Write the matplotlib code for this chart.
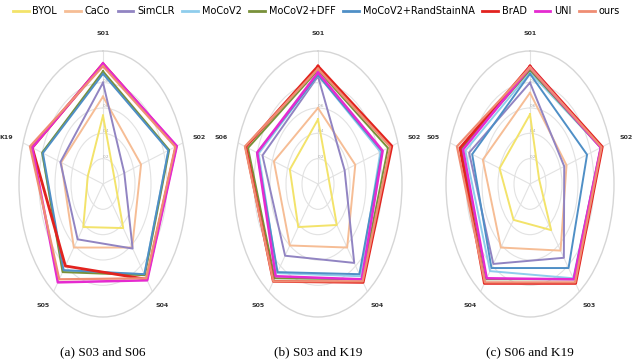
import numpy as np
import matplotlib.pyplot as plt

# methods / legend
methods = ["BYOL", "CaCo", "SimCLR", "MoCoV2", "MoCoV2+DFF", "MoCoV2+RandStainNA", "BrAD", "UNI", "ours"]
colors = ["#f3e36a", "#f6bd95", "#9184c2", "#8fcdec", "#79913a", "#4f8fc6", "#e2231f", "#e52ad0", "#ef8d73"]
widths = [1.4, 1.4, 1.4, 1.4, 1.4, 1.4, 2.0, 1.8, 1.6]

# panel (a) S03 and S06
labels_a = ["S01", "S02", "S04", "S05", "K19"]
vals_a = [
    [0.54, 0.15, 0.43, 0.42, 0.20],
    [0.69, 0.50, 0.62, 0.62, 0.55],
    [0.80, 0.28, 0.63, 0.54, 0.56],
    [0.88, 0.86, 0.88, 0.85, 0.80],
    [0.89, 0.87, 0.89, 0.86, 0.80],
    [0.87, 0.86, 0.88, 0.84, 0.79],
    [0.95, 0.96, 0.93, 0.80, 0.93],
    [0.95, 0.97, 0.94, 0.96, 0.93],
    [0.93, 0.95, 0.92, 0.93, 0.96],
]

# panel (b) S03 and K19
labels_b = ["S01", "S02", "S04", "S05", "S06"]
vals_b = [
    [0.51, 0.14, 0.40, 0.42, 0.37],
    [0.60, 0.49, 0.62, 0.60, 0.58],
    [0.85, 0.35, 0.77, 0.70, 0.73],
    [0.86, 0.82, 0.90, 0.87, 0.78],
    [0.90, 0.92, 0.93, 0.92, 0.92],
    [0.86, 0.84, 0.88, 0.86, 0.80],
    [0.93, 0.97, 0.96, 0.95, 0.95],
    [0.88, 0.85, 0.93, 0.90, 0.80],
    [0.91, 0.95, 0.95, 0.95, 0.96],
]

# panel (c) S06 and K19
labels_c = ["S01", "S02", "S03", "S04", "S05"]
vals_c = [
    [0.55, 0.12, 0.45, 0.35, 0.40],
    [0.72, 0.48, 0.65, 0.62, 0.62],
    [0.80, 0.45, 0.72, 0.78, 0.80],
    [0.88, 0.93, 0.92, 0.85, 0.85],
    [0.90, 0.93, 0.93, 0.93, 0.90],
    [0.87, 0.75, 0.82, 0.82, 0.76],
    [0.93, 0.95, 0.97, 0.97, 0.92],
    [0.92, 0.93, 0.93, 0.92, 0.88],
    [0.92, 0.94, 0.96, 0.96, 0.96],
]

captions = ["(a) S03 and S06", "(b) S03 and K19", "(c) S06 and K19"]

fig = plt.figure(figsize=(6.33, 3.62), dpi=100)

centers = [103, 318, 530]
rx, ry, cy = 84, 133, 184
W, H = 633, 362

panels = [(labels_a, vals_a), (labels_b, vals_b), (labels_c, vals_c)]
lines = []
for k, (labs, vals) in enumerate(panels):
    cx = centers[k]
    ax = fig.add_axes([(cx - rx) / W, 1 - (cy + ry) / H, 2 * rx / W, 2 * ry / H], projection="polar")
    ax.set_aspect("auto")
    ax.set_theta_offset(np.pi / 2)
    ax.set_theta_direction(-1)
    ang = np.linspace(0, 2 * np.pi, len(labs), endpoint=False)
    ang_c = np.append(ang, ang[0])
    lines = []
    for i, m in enumerate(methods):
        v = np.append(vals[i], vals[i][0])
        ln, = ax.plot(ang_c, v, color=colors[i], lw=widths[i], label=m)
        lines.append(ln)
    ax.set_ylim(0, 1.05)
    ax.set_xticks(ang)
    ax.set_xticklabels(labs, fontsize=4.5, fontweight="bold", color="#333333")
    ax.tick_params(axis="x", pad=2)
    ax.set_yticks([0.2, 0.4, 0.6, 0.8])
    ax.set_yticklabels(["0.2", "0.4", "0.6", "0.8"], fontsize=3, color="#aaaaaa")
    ax.set_rlabel_position(0)
    ax.grid(color="#e2e2e2", lw=0.8)
    ax.spines["polar"].set_color("#d6d6d6")
    ax.spines["polar"].set_linewidth(1.0)
    fig.text(cx / W, 1 - 352 / H, captions[k], ha="center", va="center",
             fontsize=9.5, family="Liberation Serif")

fig.legend(lines, methods, loc="center", bbox_to_anchor=(0.5, 1 - 11 / H), ncol=9,
           frameon=False, handlelength=1.6, handletextpad=0.4,
           columnspacing=0.8, prop={"size": 7})
for ln in fig.legends[0].get_lines():
    ln.set_linewidth(2)

fig.savefig("out.png", dpi=100)
